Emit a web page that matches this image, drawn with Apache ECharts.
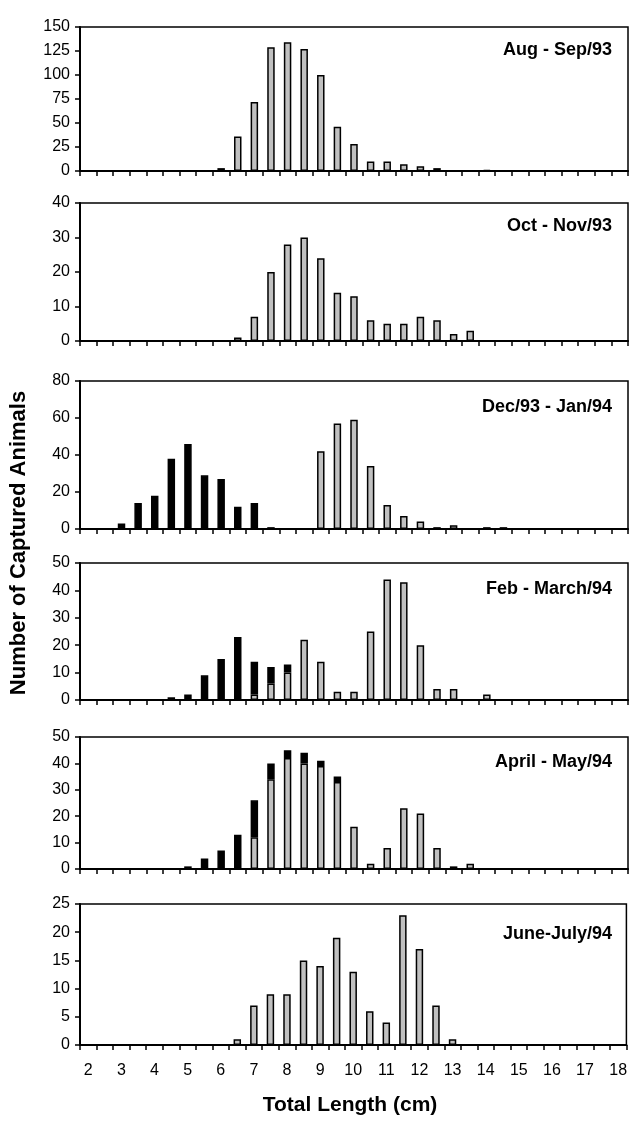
<!DOCTYPE html>
<html><head><meta charset="utf-8">
<script src="https://cdn.jsdelivr.net/npm/echarts@6.0.0/dist/echarts.min.js"></script>
<style>html,body{margin:0;padding:0;background:#fff}#c{width:630px;height:1122px}</style>
</head><body><div id="c"></div><script>
// Total length classes (cm), 0.5 cm bins
var categories = ['2','2.5','3','3.5','4','4.5','5','5.5','6','6.5','7','7.5','8','8.5','9','9.5','10','10.5','11','11.5','12','12.5','13','13.5','14','14.5','15','15.5','16','16.5','17','17.5','18'];

var panelTitles = ['Aug - Sep/93','Oct - Nov/93','Dec/93 - Jan/94','Feb - March/94','April - May/94','June-July/94'];

// gray (older cohort) and black (recruits) counts per panel
var augSepGray   = [0,0,0,0,0,0,0,0,3,36,72,129,134,127,100,46,28,10,10,7,5,3,0,0,1,0,0,0,0,0,0,0,0];
var augSepBlack  = [0,0,0,0,0,0,0,0,0,0,0,0,0,0,0,0,0,0,0,0,0,0,0,0,0,0,0,0,0,0,0,0,0];
var octNovGray   = [0,0,0,0,0,0,0,0,0,1,7,20,28,30,24,14,13,6,5,5,7,6,2,3,0,0,0,0,0,0,0,0,0];
var octNovBlack  = [0,0,0,0,0,0,0,0,0,0,0,0,0,0,0,0,0,0,0,0,0,0,0,0,0,0,0,0,0,0,0,0,0];
var decJanGray   = [0,0,0,0,0,0,0,0,0,0,0,0,0,0,42,57,59,34,13,7,4,1,2,0,1,1,0,0,0,0,0,0,0];
var decJanBlack  = [0,0,3,14,18,38,46,29,27,12,14,1,0,0,0,0,0,0,0,0,0,0,0,0,0,0,0,0,0,0,0,0,0];
var febMarGray   = [0,0,0,0,0,0,0,0,0,0,2,6,10,22,14,3,3,25,44,43,20,4,4,0,2,0,0,0,0,0,0,0,0];
var febMarBlack  = [0,0,0,0,0,1,2,9,15,23,12,6,3,0,0,0,0,0,0,0,0,0,0,0,0,0,0,0,0,0,0,0,0];
var aprMayGray   = [0,0,0,0,0,0,0,0,0,0,12,34,42,40,39,33,16,2,8,23,21,8,1,2,0,0,0,0,0,0,0,0,0];
var aprMayBlack  = [0,0,0,0,0,0,1,4,7,13,14,6,3,4,2,2,0,0,0,0,0,0,0,0,0,0,0,0,0,0,0,0,0];
var junJulGray   = [0,0,0,0,0,0,0,0,0,1,7,9,9,15,14,19,13,6,4,23,17,7,1,0,0,0,0,0,0,0,0,0,0];
var junJulBlack  = [0,0,0,0,0,0,0,0,0,0,0,0,0,0,0,0,0,0,0,0,0,0,0,0,0,0,0,0,0,0,0,0,0];

var yMax      = [150, 40, 80, 50, 50, 25];
var yInterval = [25, 10, 20, 10, 10, 5];

var grayData  = [augSepGray, octNovGray, decJanGray, febMarGray, aprMayGray, junJulGray];
var blackData = [augSepBlack, octNovBlack, decJanBlack, febMarBlack, aprMayBlack, junJulBlack];

// layout
var gridTop    = [27, 203, 381, 563, 737, 904];
var gridHeight = [144, 138, 148, 137, 132, 141];
var titleOff   = [15, 15, 18, 18, 17, 22];

var FONT = 'Liberation Sans, Arial, sans-serif';
var grids = [], xAxes = [], yAxes = [], series = [], titles = [];
function clean(a){ return a.map(function(v){ return v ? v : '-'; }); }

for (var i = 0; i < 6; i++) {
  grids.push({left: 80, right: 2, top: gridTop[i], height: gridHeight[i], show: true,
    borderColor: '#000', borderWidth: 1.5, backgroundColor: 'transparent'});
  xAxes.push({type: 'category', gridIndex: i, data: categories, boundaryGap: true,
    axisLine: {show: true, lineStyle: {color: '#000', width: 2}},
    axisTick: {show: true, interval: 0, length: 5, lineStyle: {color: '#000', width: 1.5}},
    axisLabel: {show: i === 5, interval: 1, color: '#000', fontSize: 16, margin: 18, fontFamily: FONT},
    splitLine: {show: false}});
  yAxes.push({type: 'value', gridIndex: i, min: 0, max: yMax[i], interval: yInterval[i],
    axisLine: {show: true, lineStyle: {color: '#000', width: 2}},
    axisTick: {show: true, length: 5, lineStyle: {color: '#000', width: 1.5}},
    axisLabel: {color: '#000', fontSize: 16, margin: 10, fontFamily: FONT},
    splitLine: {show: false}});
  series.push({type: 'bar', xAxisIndex: i, yAxisIndex: i, stack: 'p' + i, barWidth: '45%',
    data: clean(grayData[i]), itemStyle: {color: '#c0c0c0', borderColor: '#000', borderWidth: 1.5}});
  series.push({type: 'bar', xAxisIndex: i, yAxisIndex: i, stack: 'p' + i, barWidth: '45%',
    data: clean(blackData[i]), itemStyle: {color: '#000', borderColor: '#000', borderWidth: 1.5}});
  titles.push({text: panelTitles[i], right: 18, top: gridTop[i] + titleOff[i] - 1, padding: 0,
    textStyle: {color: '#000', fontSize: 18, fontWeight: 'bold', fontFamily: FONT}});
}

var chart = echarts.init(document.getElementById('c'), null, {renderer: 'canvas'});
chart.setOption({
  animation: false,
  backgroundColor: '#fff',
  title: titles,
  grid: grids,
  xAxis: xAxes,
  yAxis: yAxes,
  series: series,
  graphic: [
    {type: 'text', x: 19, y: 543, rotation: Math.PI / 2,
      style: {text: 'Number of Captured Animals', fill: '#000', font: 'bold 22px ' + FONT,
        textAlign: 'center', textVerticalAlign: 'middle'}},
    {type: 'text', x: 350, y: 1105,
      style: {text: 'Total Length (cm)', fill: '#000', font: 'bold 21px ' + FONT,
        textAlign: 'center', textVerticalAlign: 'middle'}}
  ]
});
</script></body></html>
